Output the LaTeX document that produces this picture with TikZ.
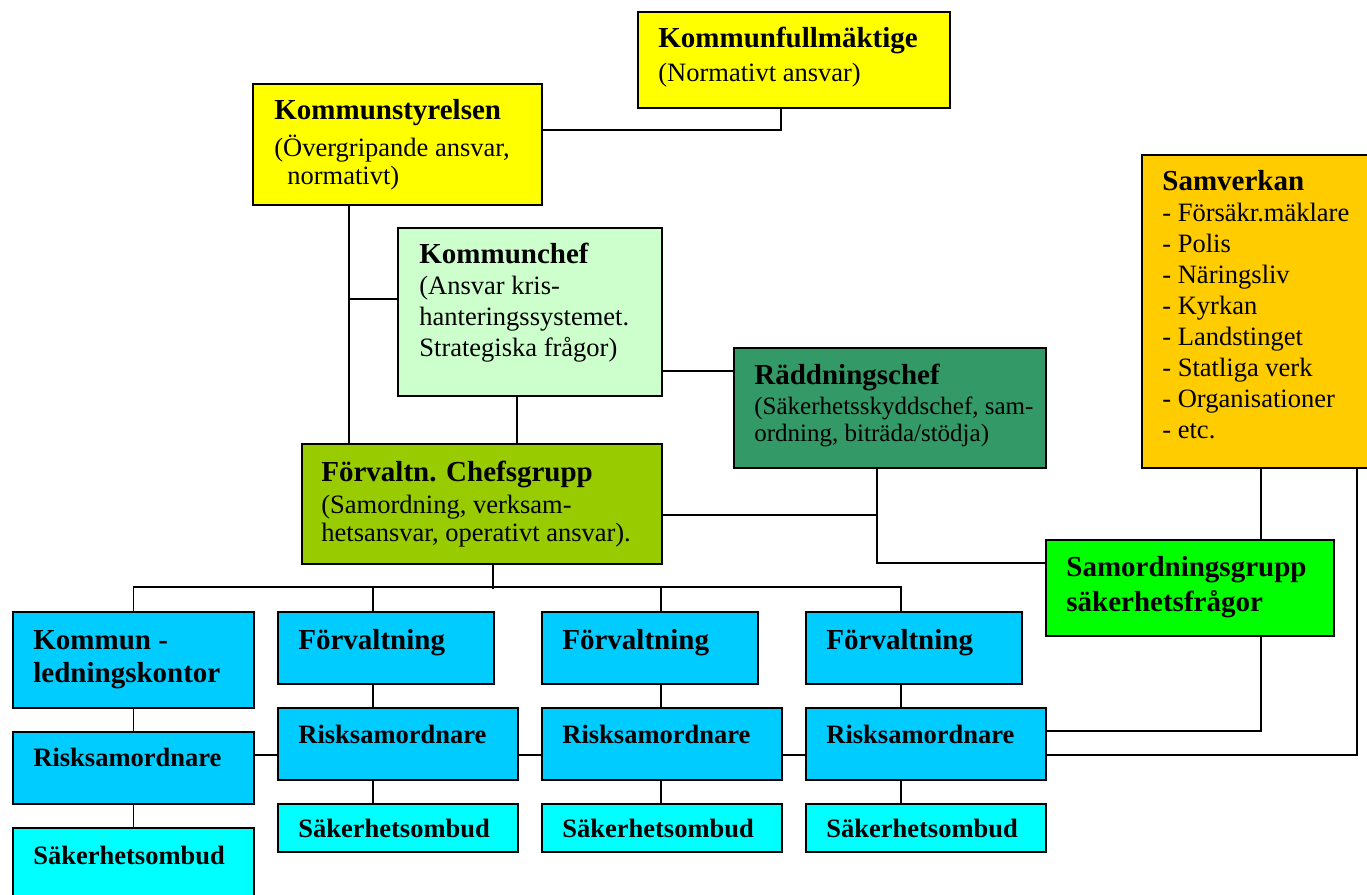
\documentclass[tikz,border=0pt]{standalone}
\usepackage{fontspec}
\setmainfont{Liberation Serif}
\usetikzlibrary{positioning,calc,fit}

\definecolor{ksYellow}{RGB}{255,255,0}
\definecolor{chefGreen}{RGB}{204,255,204}
\definecolor{raddGreen}{RGB}{51,153,102}
\definecolor{samvOrange}{RGB}{255,204,0}
\definecolor{fcgGreen}{RGB}{153,204,0}
\definecolor{samgGreen}{RGB}{0,255,0}
\definecolor{forvBlue}{RGB}{0,204,255}
\definecolor{ombudCyan}{RGB}{0,255,255}

\newcommand{\hdfont}{\bfseries\fontsize{14.5}{15.5}\selectfont}

\tikzset{
  box/.style={draw=black, line width=1pt, inner sep=0pt},
  % base = baseline of the last line
  txt/.style={anchor=base west, inner sep=0pt, align=left, font=\fontsize{13.25}{15.5}\selectfont},
  btxt/.style={txt, font=\bfseries\fontsize{13.25}{15.5}\selectfont},
  htxt/.style={txt, font=\hdfont},
  conn/.style={draw=black, line width=0.9pt},
}

\begin{document}
\begin{tikzpicture}[x=0.5pt, y=-0.5pt]
\useasboundingbox (0,0) rectangle (1367,895);
\clip (0,0) rectangle (1367,895);

% upper levels
\node[box, fill=ksYellow, fit={(638,12) (950,108)}] (kf) {};
\node[box, fill=ksYellow, fit={(253,84) (542,205)}] (ks) {};
\node[box, fill=chefGreen, fit={(398,228) (662,396)}] (kc) {};
\node[box, fill=raddGreen, fit={(734,348) (1046,468)}] (rc) {};
\node[box, fill=samvOrange, fit={(1142,155) (1390,468)}] (sv) {};
\node[box, fill=fcgGreen, fit={(302,444) (662,564)}] (fcg) {};
\node[box, fill=samgGreen, fit={(1046,540) (1334,636)}] (sg) {};

% forvaltningar
\node[box, fill=forvBlue, fit={(13,612) (254,708)}] (klk) {};
\node[box, fill=forvBlue, fit={(13,732) (254,804)}] (r0) {};
\node[box, fill=ombudCyan, fit={(13,828) (254,920)}] (s0) {};
\foreach \i/\xl in {1/278,2/542,3/806} {
  \node[box, fill=forvBlue, fit={(\xl,612) (\xl+216,684)}] (f\i) {};
  \node[box, fill=forvBlue, fit={(\xl,708) (\xl+240,780)}] (r\i) {};
  \node[box, fill=ombudCyan, fit={(\xl,804) (\xl+240,852)}] (s\i) {};
}

% texts
\node[txt] (kf-t) at ($(kf.north west)+(21,70)$) {{\hdfont Kommunfullmäktige}\\[1.5pt](Normativt ansvar)};
\node[txt] (ks-t) at ($(ks.north west)+(22,101)$) {{\hdfont Kommunstyrelsen}\\[3pt](Övergripande ansvar,\\[-1.5pt]\hspace*{6.5pt}normativt)};
\node[txt] (kc-t) at ($(kc.north west)+(22,129)$) {{\hdfont Kommunchef}\\(Ansvar kris-\\hanteringssystemet.\\Strategiska frågor)};
\node[txt, font=\fontsize{12.5}{13.5}\selectfont] (rc-t) at ($(rc.north west)+(21,94)$) {{\hdfont Räddningschef}\\[1.5pt](Säkerhetsskyddschef, sam-\\ordning, biträda/stödja)};
\node[txt] (sv-t) at ($(sv.north west)+(21,284)$) {{\hdfont Samverkan}\\- Försäkr.mäklare\\- Polis\\- Näringsliv\\- Kyrkan\\- Landstinget\\- Statliga verk\\- Organisationer\\- etc.};
\node[txt] (fcg-t) at ($(fcg.north west)+(20,98)$) {{\hdfont Förvaltn. Chefsgrupp}\\[0.5pt](Samordning, verksam-\\[-1.5pt]hetsansvar, operativt ansvar).};
\node[htxt] (sg-t) at ($(sg.north west)+(21,72)$) {Samordningsgrupp\\[2pt]säkerhetsfrågor};
\node[htxt] (klk-t) at ($(klk.north west)+(21,71)$) {Kommun -\\[1pt]ledningskontor};
\node[btxt] (r0-t) at ($(r0.north west)+(21,35)$) {Risksamordnare};
\node[btxt] (s0-t) at ($(s0.north west)+(21,37)$) {Säkerhetsombud};
\foreach \i in {1,2,3} {
  \node[htxt] (f\i-t) at ($(f\i.north west)+(21,38)$) {Förvaltning};
  \node[btxt] (r\i-t) at ($(r\i.north west)+(21,36)$) {Risksamordnare};
  \node[btxt] (s\i-t) at ($(s\i.north west)+(21,34)$) {Säkerhetsombud};
}

% connectors
\draw[conn] ($(kf.south west)+(144,0)$) |- ($(ks.north east)+(0,47)$);
\draw[conn] ($(ks.south west)+(97,0)$) coordinate (ksdown) -- (ksdown |- fcg.north);
\draw[conn] (ksdown |- kc.north west) ++(0,72) -- ($(kc.north west)+(0,72)$);
\draw[conn] ($(kc.south west)+(120,0)$) coordinate (kcdown) -- (kcdown |- fcg.north);
\draw[conn] ($(kc.north east)+(0,144)$) coordinate (kcr) -- (kcr -| rc.west);
\draw[conn] ($(rc.south west)+(144,0)$) coordinate (rcdown) |- ($(sg.north west)+(0,24)$);
\draw[conn] ($(fcg.north east)+(0,72)$) coordinate (fcgr) -- (fcgr -| rcdown);
\draw[conn] ($(sv.south west)+(120,0)$) coordinate (svdown) -- (svdown |- sg.north);
\draw[conn] ($(sv.south west)+(216,0)$) |- ($(r3.north east)+(0,48)$);
\draw[conn] ($(sg.south west)+(216,0)$) |- ($(r3.north east)+(0,24)$);

% bus to forvaltningar
\coordinate (d1) at ($(f1.north west)+(96,0)$);
\coordinate (d2) at ($(f2.north west)+(120,0)$);
\coordinate (d3) at ($(f3.north west)+(96,0)$);
\draw[conn] ($(fcg.south west)+(192,0)$) -- ++(0,24);
\draw[conn] (klk.north) -- ++(0,-24) coordinate (busl) -| (d3);
\draw[conn] (d1) -- (d1 |- busl);
\draw[conn] (d2) -- (d2 |- busl);
\foreach \i in {1,2,3} {
  \draw[conn] (d\i |- f\i.south) -- (d\i |- r\i.north);
  \draw[conn] (d\i |- r\i.south) -- (d\i |- s\i.north);
}
\draw[conn] (klk.south) -- (r0.north);
\draw[conn] (r0.south) -- (s0.north);

% risksamordnare chain
\draw[conn] ($(r0.north east)+(0,24)$) -- ($(r1.north west)+(0,48)$);
\draw[conn] ($(r1.north east)+(0,48)$) -- ($(r2.north west)+(0,48)$);
\draw[conn] ($(r2.north east)+(0,48)$) -- ($(r3.north west)+(0,48)$);
\end{tikzpicture}
\end{document}
